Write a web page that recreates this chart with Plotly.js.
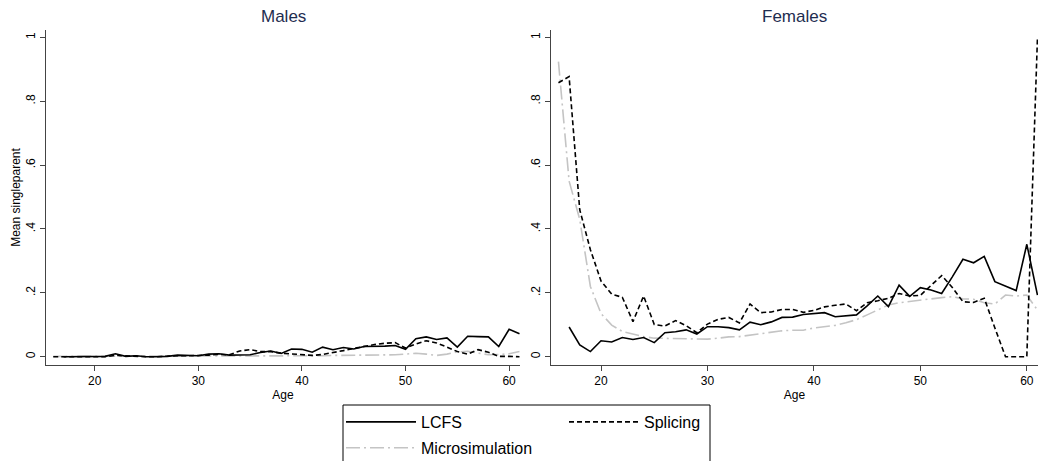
<!DOCTYPE html>
<html>
<head>
<meta charset="utf-8">
<script src="https://cdn.plot.ly/plotly-3.0.1.min.js"></script>
<style>html,body{margin:0;padding:0;background:#fff;}#chart{width:1040px;height:461px;}</style>
</head>
<body>
<div id="chart"></div>
<script>
// Ages 16..61
const ages = [16,17,18,19,20,21,22,23,24,25,26,27,28,29,30,31,32,33,34,35,36,37,38,39,40,41,42,43,44,45,46,47,48,49,50,51,52,53,54,55,56,57,58,59,60,61];

// Males
const maleLCFS = [null,0,0,0,0,0.001,0.009,0.001,0.003,0,0,0.001,0.005,0.004,0.003,0.008,0.009,0.005,0.005,0.006,0.013,0.018,0.010,0.024,0.023,0.014,0.030,0.022,0.029,0.024,0.032,0.032,0.033,0.035,0.023,0.056,0.062,0.054,0.059,0.030,0.064,0.063,0.062,0.032,0.086,0.072];
const maleSplicing = [0,0,0.001,0,0,0,0.004,0.002,0.001,0,0,0.002,0.003,0.003,0.003,0.005,0.007,0.006,0.018,0.022,0.016,0.016,0.011,0.009,0.007,0.004,0.007,0.012,0.019,0.026,0.033,0.038,0.042,0.044,0.027,0.040,0.050,0.043,0.030,0.016,0.008,0.022,0.014,0.001,0.001,0];
const maleMicro = [0.001,0.001,0.001,0.001,0.001,0.001,0.001,0.001,0.001,0.001,0.001,0.001,0.001,0.002,0.002,0.002,0.002,0.002,0.002,0.002,0.002,0.003,0.003,0.003,0.003,0.003,0.003,0.004,0.004,0.005,0.005,0.005,0.006,0.006,0.008,0.011,0.008,0.004,0.008,0.015,0.017,0.011,0.006,0.007,0.009,0.016];

// Females
const femaleLCFS = [null,0.093,0.037,0.016,0.050,0.046,0.060,0.054,0.060,0.044,0.075,0.078,0.084,0.071,0.094,0.094,0.091,0.084,0.108,0.100,0.109,0.123,0.124,0.132,0.134,0.138,0.125,0.127,0.131,0.159,0.190,0.157,0.224,0.189,0.216,0.209,0.198,0.250,0.305,0.294,0.314,0.235,0.221,0.207,0.352,0.193];
const femaleSplicing = [0.858,0.877,0.46,0.335,0.237,0.196,0.186,0.110,0.190,0.101,0.096,0.113,0.097,0.075,0.102,0.117,0.123,0.106,0.165,0.138,0.140,0.148,0.148,0.139,0.145,0.156,0.161,0.165,0.144,0.169,0.175,0.183,0.198,0.190,0.192,0.224,0.254,0.217,0.172,0.170,0.183,0.090,0,0,0,1.0];
const femaleMicro = [0.924,0.55,0.43,0.22,0.135,0.099,0.079,0.071,0.063,0.058,0.057,0.057,0.057,0.056,0.055,0.058,0.062,0.063,0.068,0.072,0.076,0.081,0.083,0.083,0.090,0.094,0.098,0.106,0.116,0.131,0.146,0.162,0.169,0.173,0.179,0.182,0.185,0.188,0.181,0.180,0.169,0.165,0.193,0.190,0.193,0.146];

const panelTitles = ["Males", "Females"];
const seriesNames = ["LCFS", "Splicing", "Microsimulation"];
const xTicks = [20,30,40,50,60];
const yTicks = [0,0.2,0.4,0.6,0.8,1];
const yTickText = ["0",".2",".4",".6",".8","1"];

const FONT = "Liberation Sans, Arial, Helvetica, sans-serif";
const GRAY = "#c4c4c4";
const styles = [
  {color:"#000000", width:1.6, dash:"solid"},
  {color:"#000000", width:1.6, dash:"5px,3px"},
  {color:GRAY, width:1.6, dash:"14px,4px,2px,4px"}
];

const maleData = [maleLCFS, maleSplicing, maleMicro];
const femaleData = [femaleLCFS, femaleSplicing, femaleMicro];
const legendFor = ["legend", "legend2", "legend"];

const traces = [];
const order = [2,1,0];
order.forEach(i => {
  traces.push({x: ages, y: maleData[i], type:"scatter", mode:"lines", name: seriesNames[i],
    line: styles[i], xaxis:"x", yaxis:"y", showlegend:false, connectgaps:false, hoverinfo:"skip"});
});
order.forEach(i => {
  traces.push({x: ages, y: femaleData[i], type:"scatter", mode:"lines", name: seriesNames[i],
    line: styles[i], xaxis:"x2", yaxis:"y2", showlegend:true, legend: legendFor[i],
    legendrank: i, legendgroup: "g"+i, connectgaps:false, hoverinfo:"skip"});
});

const W = 1040, H = 461;
const px = v => v / W;
const py = v => 1 - v / H;

function xAxis(domain, anchor) {
  return {domain: domain, anchor: anchor, range: [15.3, 61.05], tickvals: xTicks, ticktext: xTicks.map(String),
    showgrid:false, zeroline:false, showline:true, linecolor:"#444", linewidth:1,
    ticks:"outside", ticklen:5, tickcolor:"#444", tickwidth:1,
    tickfont:{family:FONT, size:12, color:"#000"},
    title:{text:"Age", font:{family:FONT, size:12, color:"#000"}, standoff:3}};
}
function yAxis(domain, anchor, withTitle) {
  const a = {domain: domain, anchor: anchor, range: [-0.026, 1.023], tickvals: yTicks, ticktext: yTickText,
    showgrid:false, zeroline:false, showline:true, linecolor:"#444", linewidth:1,
    ticks:"outside", ticklen:5, tickcolor:"#444", tickwidth:1, tickangle:-90,
    tickfont:{family:FONT, size:12, color:"#000"}};
  if (withTitle) a.title = {text:"Mean singleparent", font:{family:FONT, size:12, color:"#000"}, standoff:1};
  return a;
}

const yDom = [py(365), py(30)];
const layout = {
  width: W, height: H,
  margin: {l:0, r:0, t:0, b:0, autoexpand:false},
  paper_bgcolor:"#ffffff", plot_bgcolor:"#ffffff",
  font:{family:FONT, color:"#000"},
  xaxis: xAxis([px(46), px(520)], "y"),
  yaxis: yAxis(yDom, "x", true),
  xaxis2: xAxis([px(551), px(1038)], "y2"),
  yaxis2: yAxis(yDom, "x2", false),
  showlegend: true,
  legend: {x: px(341), y: py(405), xanchor:"left", yanchor:"top", orientation:"v",
    traceorder:"grouped", tracegroupgap: 2, bgcolor:"rgba(0,0,0,0)", borderwidth:0,
    font:{family:FONT, size:16, color:"#000"}, itemwidth:70},
  legend2: {x: px(564), y: py(405), xanchor:"left", yanchor:"top", orientation:"v",
    bgcolor:"rgba(0,0,0,0)", borderwidth:0,
    font:{family:FONT, size:16, color:"#000"}, itemwidth:70},
  shapes: [
    {type:"rect", xref:"paper", yref:"paper", x0: px(343), x1: px(710), y0: py(463), y1: py(405),
      line:{color:"#000", width:1}, fillcolor:"rgba(0,0,0,0)"}
  ],
  annotations: panelTitles.map((t, i) => ({
    text: t, xref: i === 0 ? "x domain" : "x2 domain", x: 0.5, yref:"paper", y: py(16),
    xanchor:"center", yanchor:"middle", showarrow:false,
    font:{family:FONT, size:17, color:"#1e2d50"}
  }))
};

Plotly.newPlot("chart", traces, layout, {displayModeBar:false, staticPlot:true});
</script>
</body>
</html>
